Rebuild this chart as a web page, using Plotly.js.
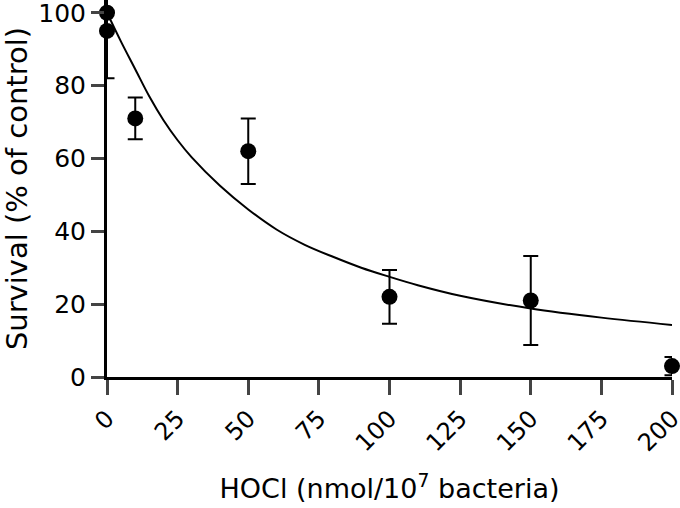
<!DOCTYPE html>
<html>
<head>
<meta charset="utf-8">
<script src="https://cdn.plot.ly/plotly-3.0.1.min.js"></script>
<style>
  html, body { margin: 0; padding: 0; background: #fff; }
  #plot { width: 680px; height: 508px; }
</style>
</head>
<body>
<div id="plot"></div>
<script>
// measured points (mean +/- error)
var doseX = [0, 0, 10, 50, 100, 150, 200];
var survivalY = [100, 95, 71, 62, 22, 21, 3];
var survivalErr = [0, 13, 5.7, 9, 7.4, 12.2, 2.5];

// fitted curve
var fitX = [0, 5, 10, 15, 20, 25, 30, 40, 50, 60, 70, 80, 90, 100, 110, 125, 150, 175, 200];
var fitY = [100, 92, 84.5, 77, 70.5, 65, 60.3, 52.5, 46, 40.5, 36.3, 33, 30, 27.5, 25.2, 22.3, 18.8, 16.3, 14.3];

var xTicks = [0, 25, 50, 75, 100, 125, 150, 175, 200];
var yTicks = [0, 20, 40, 60, 80, 100];

var fnt = "DejaVu Sans, Arial, sans-serif";

var fit = {
  x: fitX,
  y: fitY,
  mode: "lines",
  line: {color: "#000", width: 2, shape: "spline", smoothing: 1},
  cliponaxis: false,
  hoverinfo: "skip"
};

var pts = {
  x: doseX,
  y: survivalY,
  mode: "markers",
  marker: {color: "#000", size: 16},
  error_y: {type: "data", array: survivalErr, visible: true, color: "#000", thickness: 2, width: 7.5},
  cliponaxis: false
};

var layout = {
  width: 680,
  height: 508,
  margin: {l: 107, r: 8, t: 0, b: 131},
  showlegend: false,
  paper_bgcolor: "#fff",
  plot_bgcolor: "#fff",
  font: {family: fnt, color: "#000", size: 24},
  xaxis: {
    range: [0, 200],
    tickvals: xTicks,
    tickangle: -45,
    ticks: "outside",
    ticklen: 15,
    tickwidth: 3,
    ticklabeloverflow: "allow",
    showline: true,
    linewidth: 3,
    linecolor: "#000",
    showgrid: false,
    zeroline: false,
    tickfont: {size: 24},
    title: {text: "HOCl (nmol/10<sup>7</sup> bacteria)", font: {size: 27}, standoff: 24}
  },
  yaxis: {
    range: [0, 103.5],
    tickvals: yTicks,
    ticks: "outside",
    ticklen: 13,
    tickwidth: 3,
    ticklabeloverflow: "allow",
    showline: true,
    linewidth: 3,
    linecolor: "#000",
    showgrid: false,
    zeroline: false,
    tickfont: {size: 25},
    title: {text: "Survival (% of control)", font: {size: 29}, standoff: 6}
  }
};

Plotly.newPlot("plot", [fit, pts], layout, {displayModeBar: false, staticPlot: true});
</script>
</body>
</html>
